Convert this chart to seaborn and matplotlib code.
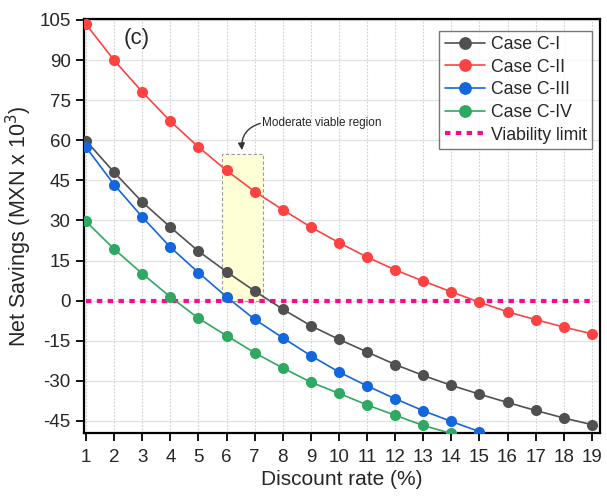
import numpy as np
import pandas as pd
import seaborn as sns
import matplotlib.pyplot as plt
from matplotlib.patches import Rectangle

sns.set_style("white")
plt.rcParams['font.family'] = ['Liberation Sans', 'DejaVu Sans']
plt.rcParams['axes.unicode_minus'] = False

# Discount rates (%)
rates = list(range(1, 20))

# Net savings (MXN x 10^3) per case
case_c1 = [59.8, 48.0, 36.9, 27.5, 18.5, 10.8, 3.6, -3.2, -9.4, -14.5,
           -19.2, -23.9, -28.0, -31.7, -35.0, -38.1, -41.1, -43.9, -46.4]
case_c2 = [103.4, 89.9, 78.1, 67.1, 57.5, 48.7, 40.8, 34.0, 27.5, 21.7,
           16.3, 11.5, 7.3, 3.3, -0.6, -4.2, -7.1, -9.9, -12.4]
case_c3 = [57.4, 43.4, 31.3, 20.0, 10.5, 1.4, -7.0, -13.9, -20.6, -26.7,
           -31.9, -36.7, -41.2, -45.2, -49.0, -52.5]
case_c4 = [29.6, 19.3, 10.1, 1.4, -6.6, -13.1, -19.5, -25.2, -30.5, -34.7,
           -39.0, -42.9, -46.7, -49.7, -52.5]
viability = [0.0] * len(rates)

labels = ["Case C-I", "Case C-II", "Case C-III", "Case C-IV"]
series = [case_c1, case_c2, case_c3, case_c4]
colors = ["#505050", "#FF4242", "#1466DC", "#2FA862"]

# Moderate viable region bounds
region_x = (5.85, 7.3)
region_y = (0.0, 55.0)

fig = plt.figure(figsize=(6.07, 5.04), dpi=100)
ax = fig.add_axes([0.138, 0.141, 0.850, 0.821])

for lab, vals, col in zip(labels, series, colors):
    sns.lineplot(x=rates[:len(vals)], y=vals, ax=ax, color=col, lw=1.2,
                 marker='o', markersize=8, markeredgewidth=0, label=lab,
                 zorder=3)

sns.lineplot(x=rates, y=viability, ax=ax, color="#FF0A8C", lw=3,
             linestyle=(0, (1.3, 1.3)), label="Viability limit", zorder=2)

ax.add_patch(Rectangle((region_x[0], region_y[0]), region_x[1] - region_x[0],
                       region_y[1] - region_y[0], facecolor="#FFFFD6",
                       edgecolor="#9a9a9a", lw=0.8, ls=(0, (3, 2)), zorder=1))

ax.text(7.28, 66.3, "Moderate viable region", fontsize=8.5, va='center', ha='left')
ax.annotate("", xy=(6.55, 56.3), xytext=(7.2, 66.3),
            arrowprops=dict(arrowstyle='-|>', color='#333333', lw=1,
                            connectionstyle="arc3,rad=0.4", shrinkA=0, shrinkB=0,
                            mutation_scale=10))

ax.text(2.35, 98, "(c)", fontsize=16, ha='left', va='center')

ax.set_xlim(0.92, 19.28)
ax.set_ylim(-49.5, 105.3)
ax.set_xticks(rates)
ax.set_yticks(np.arange(-45, 106, 15))
ax.set_xlabel("Discount rate (%)", fontsize=15, labelpad=3)
ax.set_ylabel("Net Savings (MXN x 10$^3$)", fontsize=15.5, labelpad=4)
ax.tick_params(axis='both', which='major', labelsize=13.5, direction='out',
               length=5.8, width=1.3, color='black', left=True, bottom=True,
               pad=3.6)
ax.tick_params(axis='x', pad=5.5)

ax.grid(axis='y', color='#e2e2e2', lw=1.0, zorder=0)
ax.grid(axis='x', color='#d0d0d0', lw=0.8, ls=(0, (1.5, 1.5)), zorder=0)
ax.set_axisbelow(True)

for sp in ax.spines.values():
    sp.set_color('black')
    sp.set_linewidth(1.6)

leg = ax.legend(loc='upper right', bbox_to_anchor=(0.995, 0.985), fontsize=12.7,
                frameon=True, fancybox=False, edgecolor='#555555',
                handlelength=2.3, handletextpad=0.3, borderpad=0.3,
                labelspacing=0.32, borderaxespad=0.3, markerscale=1.15)
leg.get_frame().set_linewidth(1.0)

fig.savefig("out.png", dpi=100)
